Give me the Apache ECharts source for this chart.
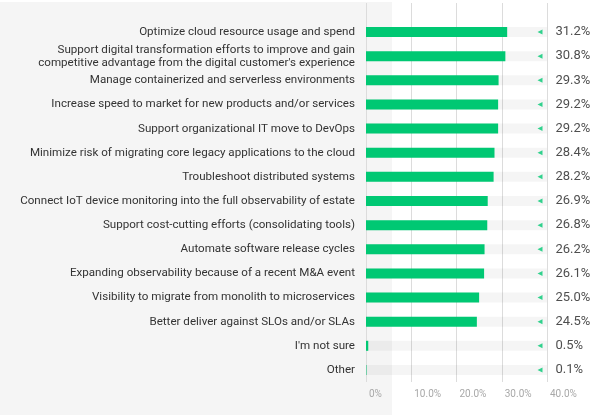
<!DOCTYPE html>
<html>
<head>
<meta charset="utf-8">
<script src="https://cdn.jsdelivr.net/npm/echarts@6/dist/echarts.min.js"></script>
<style>
html,body{margin:0;padding:0;background:#fff;}
#chart{width:600px;height:415px;}
</style>
</head>
<body>
<div id="chart"></div>
<script>
var categories = [
  "Optimize cloud resource usage and spend",
  "Support digital transformation efforts to improve and gain\ncompetitive advantage from the digital customer's experience",
  "Manage containerized and serverless environments",
  "Increase speed to market for new products and/or services",
  "Support organizational IT move to DevOps",
  "Minimize risk of migrating core legacy applications to the cloud",
  "Troubleshoot distributed systems",
  "Connect IoT device monitoring into the full observability of estate",
  "Support cost-cutting efforts (consolidating tools)",
  "Automate software release cycles",
  "Expanding observability because of a recent M&A event",
  "Visibility to migrate from monolith to microservices",
  "Better deliver against SLOs and/or SLAs",
  "I'm not sure",
  "Other"
];
var values = [31.2, 30.8, 29.3, 29.2, 29.2, 28.4, 28.2, 26.9, 26.8, 26.2, 26.1, 25.0, 24.5, 0.5, 0.1];
var xTicks = [0, 10, 20, 30, 40];
var xMax = 40;

var chart = echarts.init(document.getElementById('chart'));
var FONT = 'Roboto, Inter, sans-serif';
chart.setOption({
  animation: false,
  graphic: [{
    type: 'rect', z: -100, silent: true,
    shape: {x: 0, y: 2, width: 392, height: 413},
    style: {fill: '#f5f5f5'}
  }],
  grid: [
    {left: 366, right: 53, top: 3, bottom: 33, containLabel: false, outerBoundsMode: 'none'},
    {left: 366, right: 53, top: 20, bottom: 33, containLabel: false, outerBoundsMode: 'none'}
  ],
  xAxis: [
    {
      gridIndex: 0, type: 'value', min: 0, max: xMax, interval: 10,
      axisLine: {show: false}, axisTick: {show: false},
      splitLine: {show: true, lineStyle: {color: '#dcdcdc', width: 1}},
      axisLabel: {
        color: '#a8a8a8', fontSize: 10, fontFamily: FONT, margin: 7,
        align: 'left', padding: [0, 0, 0, 3],
        formatter: function (v) { return v === 0 ? '0%' : v.toFixed(1) + '%'; }
      }
    },
    {
      gridIndex: 1, type: 'value', min: 0, max: xMax, show: false,
      splitLine: {show: false}
    }
  ],
  yAxis: [
    {gridIndex: 0, type: 'value', show: false, splitLine: {show: false}},
    {
      gridIndex: 1, type: 'category', inverse: true, data: categories,
      axisLine: {show: false}, axisTick: {show: false},
      axisLabel: {color: '#333', fontSize: 11.6, fontFamily: FONT, margin: 11, lineHeight: 13}
    }
  ],
  series: [
    {
      type: 'bar', xAxisIndex: 1, yAxisIndex: 1, data: values,
      barWidth: 10,
      itemStyle: {color: '#00c873'},
      showBackground: true,
      backgroundStyle: {color: 'rgba(0,0,0,0.04)'},
      z: 2
    },
    {
      type: 'scatter', xAxisIndex: 1, yAxisIndex: 1,
      data: values.map(function (v, i) { return [xMax, i]; }),
      symbol: 'triangle', symbolSize: 5, symbolRotate: 90, symbolOffset: [-7, 0],
      itemStyle: {color: '#00c873'},
      label: {
        show: true, position: 'right', distance: 13,
        color: '#222', fontSize: 13, fontFamily: FONT,
        formatter: function (p) { return values[p.dataIndex].toFixed(1) + '%'; }
      },
      z: 3
    }
  ]
});
</script>
</body>
</html>
